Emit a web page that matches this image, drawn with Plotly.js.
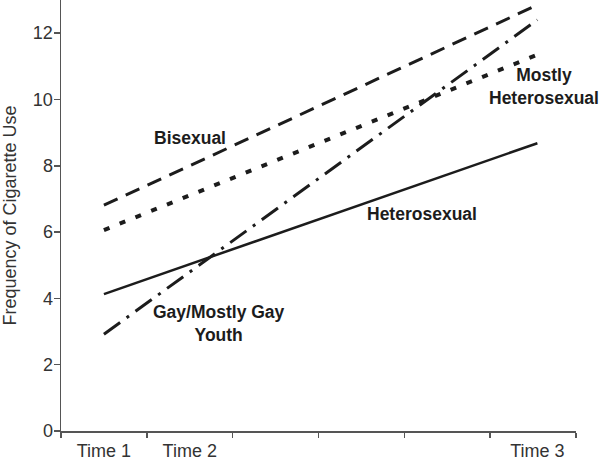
<!DOCTYPE html>
<html>
<head>
<meta charset="utf-8">
<script src="https://cdn.plot.ly/plotly-3.0.1.min.js"></script>
<style>
  html, body { margin: 0; padding: 0; background: #ffffff; }
  #chart { width: 600px; height: 461px; }
</style>
</head>
<body>
<div id="chart"></div>
<script>
// 時間點（x 軸位置）與標籤
const timeLabels = ['Time 1', 'Time 2', 'Time 3'];
const timePos = [0.5, 1.5, 5.55];

// 各群組吸菸頻率
const bisexual = [6.81, 8.0, 12.85];
const mostlyHetero = [6.06, 7.11, 11.35];
const heterosexual = [4.13, 5.03, 8.68];
const gayYouth = [2.92, 4.8, 12.4];

const FONT = 'Liberation Sans, Arial, sans-serif';
const INK = '#1c1c1c';

function makeTrace(name, y, dash, width) {
    return {
        x: timePos,
        y: y,
        type: 'scatter',
        mode: 'lines',
        name: name,
        line: { color: INK, width: width, dash: dash },
        hoverinfo: 'skip'
    };
}

const traces = [
    makeTrace('Bisexual', bisexual, '15px,9px', 3),
    makeTrace('Mostly Heterosexual', mostlyHetero, '6px,11px', 4),
    makeTrace('Heterosexual', heterosexual, 'solid', 2.5),
    makeTrace('Gay/Mostly Gay Youth', gayYouth, '20px,8px,3px,8px', 3)
];

const labelFont = { family: FONT, size: 17.5, color: INK, weight: 'bold' };

const layout = {
    width: 600,
    height: 461,
    margin: { l: 61, r: 24, t: 0, b: 30 },
    paper_bgcolor: '#ffffff',
    plot_bgcolor: '#ffffff',
    showlegend: false,
    font: { family: FONT, size: 18, color: '#333333' },
    xaxis: {
        range: [0, 6],
        tickmode: 'array',
        tickvals: timePos,
        ticktext: timeLabels,
        ticks: '',
        ticklabelstandoff: 3,
        showgrid: false,
        zeroline: false,
        showline: true,
        linecolor: '#555555',
        linewidth: 1.5,
        automargin: false,
        tickfont: { family: FONT, size: 18, color: '#333333' },
        minor: {
            tickmode: 'array',
            tickvals: [0, 1, 2, 3, 4, 5, 6],
            ticks: 'outside',
            ticklen: 5,
            tickwidth: 1.5,
            tickcolor: '#555555',
            showgrid: false
        }
    },
    yaxis: {
        range: [0, 13],
        tickvals: [0, 2, 4, 6, 8, 10, 12],
        ticks: 'outside',
        ticklen: 6,
        tickwidth: 1.5,
        tickcolor: '#555555',
        ticklabelstandoff: -3,
        showgrid: false,
        zeroline: false,
        showline: true,
        linecolor: '#555555',
        linewidth: 1.5,
        automargin: false,
        tickfont: { family: FONT, size: 18, color: '#333333' },
        title: {
            text: 'Frequency of Cigarette Use',
            font: { family: FONT, size: 18, color: '#333333' },
            standoff: 11
        }
    },
    annotations: [
        { x: 1.5, y: 8.83, text: 'Bisexual', showarrow: false, font: labelFont },
        { x: 5.63, y: 10.39, text: 'Mostly<br>Heterosexual', showarrow: false, font: labelFont },
        { x: 4.2, y: 6.54, text: 'Heterosexual', showarrow: false, font: labelFont },
        { x: 1.84, y: 3.24, text: 'Gay/Mostly Gay<br>Youth', showarrow: false, font: labelFont }
    ]
};

Plotly.newPlot('chart', traces, layout, { displayModeBar: false, staticPlot: true });
</script>
</body>
</html>
